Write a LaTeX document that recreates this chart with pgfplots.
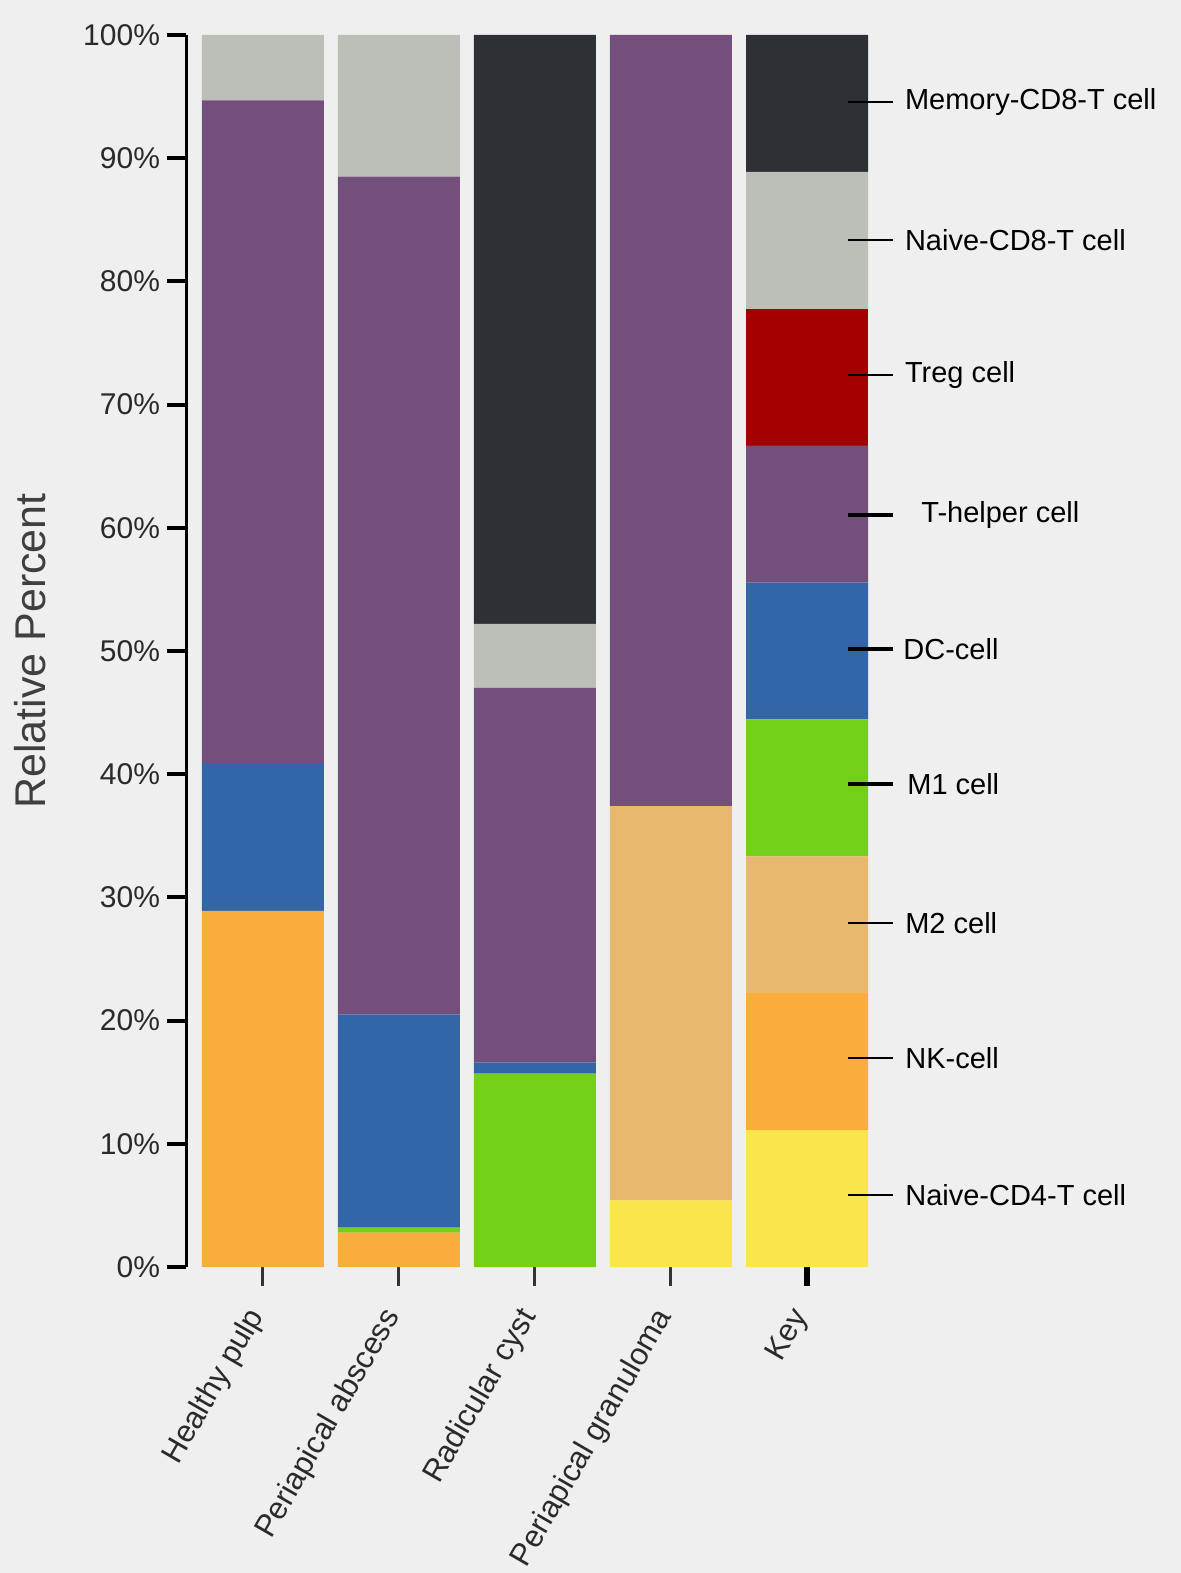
\documentclass[border=0pt]{standalone}
\usepackage{fontspec}
\setmainfont{Liberation Sans}
\usepackage{pgfplots}
\usepackage{pgfplotstable}
\pgfplotsset{compat=1.18}
\definecolor{bgc}{HTML}{EFEFEF}
\definecolor{cCDfour}{HTML}{FAE54C}
\definecolor{cNK}{HTML}{FAAD3D}
\definecolor{cMtwo}{HTML}{E8B86E}
\definecolor{cMone}{HTML}{74CF17}
\definecolor{cDC}{HTML}{3366A8}
\definecolor{cTh}{HTML}{754F7B}
\definecolor{cTreg}{HTML}{A50000}
\definecolor{cNeight}{HTML}{BCBEB8}
\definecolor{cMeight}{HTML}{2D3136}
\definecolor{txt}{HTML}{2A2A2A}

\pgfplotstableread{
cat CDfour NK Mtwo Mone DC Th Treg Neight Meight
0 0 28.9 0 0 12.0 53.8 0 5.3 0
1 0 2.8 0 0.4 17.3 68.0 0 11.5 0
2 0 0 0 15.7 0.9 30.4 0 5.2 47.8
3 5.4 0 32.0 0 0 62.6 0 0 0
4 11.11 11.11 11.11 11.11 11.11 11.11 11.11 11.11 11.12
}\datatable

\begin{document}
\begin{tikzpicture}
\fill[bgc] (0,0) rectangle (590.5bp,786.5bp);
\begin{axis}[
  at={(93bp,153bp)}, anchor=south west,
  scale only axis, width=344.5bp, height=616bp,
  ybar stacked, bar width=0.897,
  xmin=-0.566, xmax=4.5, ymin=0, ymax=100,
  enlargelimits=false, clip=false,
  axis y line*=left, axis x line*=bottom,
  x axis line style={draw=none},
  y axis line style={line width=1.5bp, black},
  tick align=outside,
  major tick length=9.5bp,
  ytick={0,10,...,100},
  yticklabels={0\%,10\%,20\%,30\%,40\%,50\%,60\%,70\%,80\%,90\%,100\%},
  ytick style={line width=2bp, black},
  xtick={0,1,2,3},
  xticklabels={Healthy pulp,Periapical abscess,Radicular cyst,Periapical granuloma},
  extra x ticks={4},
  extra x tick labels={Key},
  extra x tick style={xtick style={line width=2.6bp, black}},
  xtick style={line width=1.5bp, black!80},
  yticklabel style={font=\fontsize{15bp}{18bp}\selectfont, text=txt},
  xticklabel style={yshift=-10bp, xshift=-1bp, rotate=60, anchor=east, font=\fontsize{15.5bp}{18bp}\selectfont, text=txt},
  ylabel={Relative Percent},
  ylabel style={at={(axis description cs:-0.226,0.5)}, anchor=center, font=\fontsize{21.5bp}{25bp}\selectfont, text=txt!90},
]
\addplot[fill=cCDfour, draw=none] table[x=cat,y=CDfour]{\datatable};
\addplot[fill=cNK, draw=none] table[x=cat,y=NK]{\datatable};
\addplot[fill=cMtwo, draw=none] table[x=cat,y=Mtwo]{\datatable};
\addplot[fill=cMone, draw=none] table[x=cat,y=Mone]{\datatable};
\addplot[fill=cDC, draw=none] table[x=cat,y=DC]{\datatable};
\addplot[fill=cTh, draw=none] table[x=cat,y=Th]{\datatable};
\addplot[fill=cTreg, draw=none] table[x=cat,y=Treg]{\datatable};
\addplot[fill=cNeight, draw=none] table[x=cat,y=Neight]{\datatable};
\addplot[fill=cMeight, draw=none] table[x=cat,y=Meight]{\datatable};

\foreach \i/\yy/\xx in {1/94.56/4.718, 2/83.36/4.718, 3/72.4/4.718, 4/61.04/4.838, 5/50.16/4.706, 6/39.2/4.735, 7/27.92/4.72, 8/16.96/4.72, 9/5.84/4.72}{
  \edef\temp{\noexpand\coordinate (la\i) at (axis cs:4.301,\yy);
  \noexpand\coordinate (lb\i) at (axis cs:4.632,\yy);
  \noexpand\coordinate (lt\i) at (axis cs:\xx,\yy);}
  \temp
}
\end{axis}
\foreach \i/\lab/\lw in {1/Memory-CD8-T cell/1.3, 2/Naive-CD8-T cell/1.3, 3/Treg cell/1.3, 4/T-helper cell/2, 5/DC-cell/2, 6/M1 cell/2, 7/M2 cell/1.3, 8/NK-cell/1.3, 9/Naive-CD4-T cell/1.3}{
  \draw[line width=\lw bp, black] (la\i) -- (lb\i);
  \node[anchor=west, inner sep=0pt, font=\fontsize{14.5bp}{17bp}\selectfont, text=black] at (lt\i) {\lab};
}
\pgfresetboundingbox
\path[use as bounding box] (0,0) rectangle (590.5bp,786.5bp);
\end{tikzpicture}
\end{document}
